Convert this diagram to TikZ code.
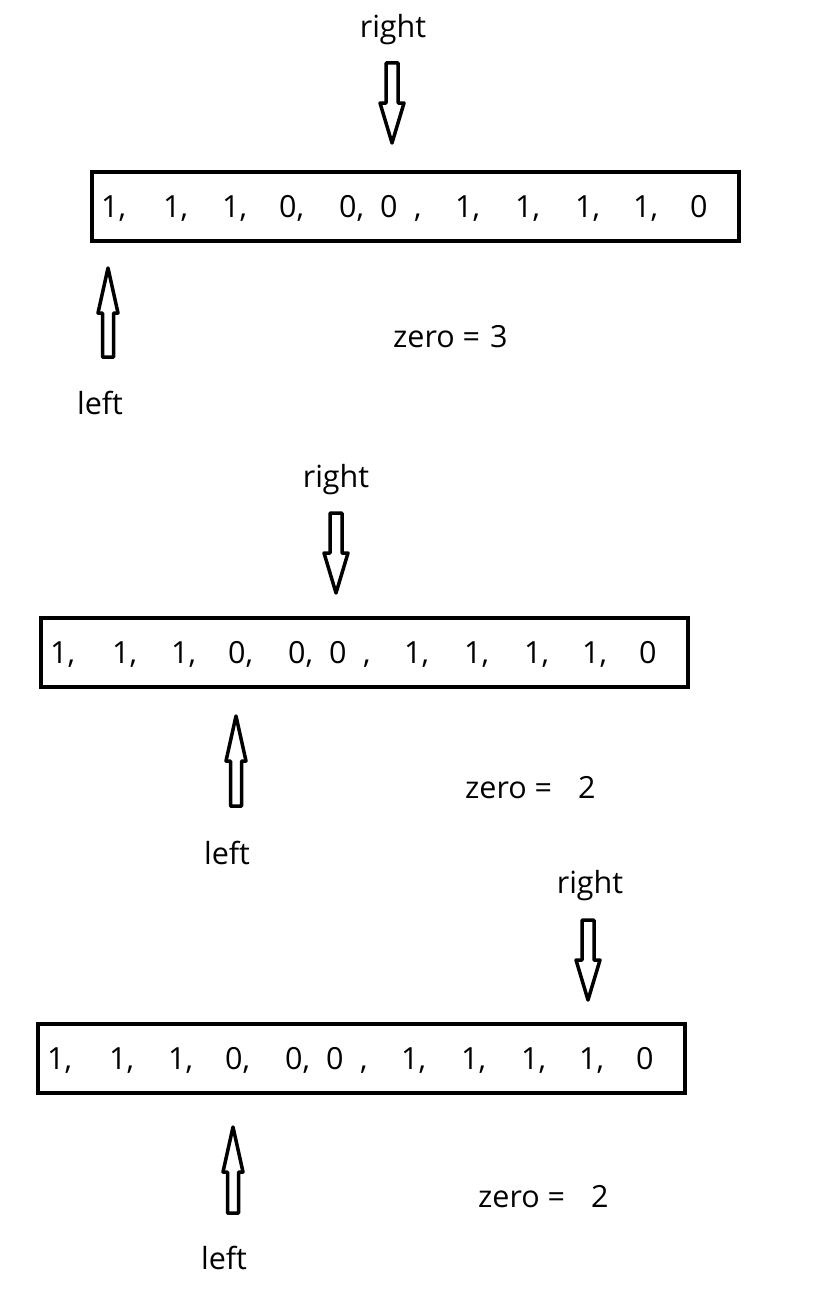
\documentclass[tikz,border=0pt]{standalone}
\usepackage{fontspec}
\setmainfont{Open Sans}
\usetikzlibrary{calc}
\newcommand\mypanel[3]{%
  \draw[box] (#1,#2) rectangle ++(647,69);
  \foreach \t/\dx [count=\i] in {{1,}/9,{1,}/71,{1,}/130,{0,}/187,{0,}/247,{0}/288,{,}/322,{1,}/363,{1,}/423,{1,}/483,{1,}/541,{0}/598}
    \node[tok] (#3t\i) at ($(#1,#2)+(\dx,45)$) {\t};
}
\newcommand\mydownarr[2]{% cx, top
  \draw[arr] (#1-6,#2) -- (#1+6,#2) -- (#1+6,#2+40) -- (#1+12,#2+40) -- (#1,#2+80)
    -- (#1-12,#2+40) -- (#1-6,#2+40) -- cycle;}
\newcommand\myuparr[3]{% cx, tip, bottom
  \draw[arr] (#1,#2) -- (#1+10,#2+45) -- (#1+5.5,#2+45) -- (#1+5.5,#3) -- (#1-5.5,#3)
    -- (#1-5.5,#2+45) -- (#1-10,#2+45) -- cycle;}
\begin{document}
\begin{tikzpicture}[x=1pt,y=-1pt,
  every node/.style={font=\fontsize{30.5}{36}\selectfont, inner sep=0pt},
  tok/.style={anchor=base west},
  lbl/.style={anchor=base},
  arr/.style={line width=3.5pt, line join=round},
  box/.style={line width=4pt}]
\useasboundingbox (0,0) rectangle (815,1290);
% panel 1
\mypanel{92}{172}{a}
\node[lbl] (aright) at (393,38) {right};
\mydownarr{392}{63}
\myuparr{108}{268}{357}
\node[lbl] (aleft) at (100,414) {left};
\node[tok] (azero) at (393,347) {zero = \hspace{2pt}3};
% panel 2
\mypanel{41}{618}{b}
\node[lbl] (bright) at (336,487) {right};
\mydownarr{336}{513}
\myuparr{236}{716}{806}
\node[lbl] (bleft) at (227,864) {left};
\node[tok] (bzero) at (465,798) {zero = \hspace{18pt}2};
% panel 3
\mypanel{38}{1024}{c}
\node[lbl] (cright) at (590,893) {right};
\mydownarr{588}{920}
\myuparr{233}{1127}{1213}
\node[lbl] (cleft) at (224,1269) {left};
\node[tok] (czero) at (478,1207) {zero = \hspace{18pt}2};
\end{tikzpicture}
\end{document}
